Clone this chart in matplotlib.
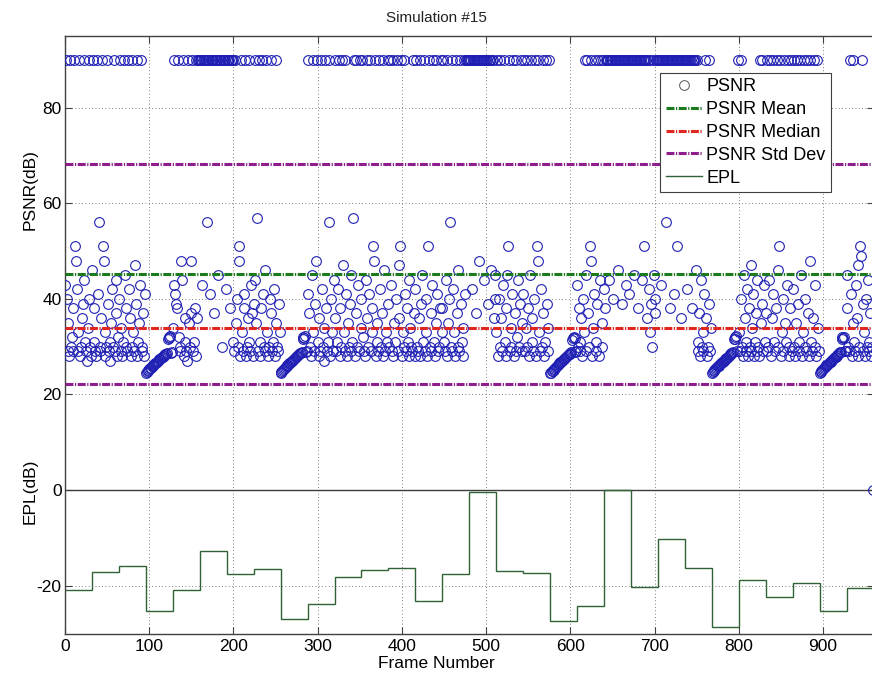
import numpy as np
import matplotlib
matplotlib.use("Agg")
import matplotlib.pyplot as plt
from matplotlib.lines import Line2D

plt.rcParams["font.family"] = ["Liberation Sans", "DejaVu Sans"]
plt.rcParams["axes.unicode_minus"] = False

# PSNR per frame (dB), one list per 32-frame GOP; 90 = lossless frame
gop00 = [43, 90, 40, 35, 29, 28, 90, 30, 32, 38, 29, 90, 51, 48, 42, 33, 29, 90, 28, 30, 36, 39, 44, 90, 31, 29, 27, 34, 90, 40, 30, 28]
gop01 = [46, 90, 38, 31, 29, 28, 90, 41, 56, 30, 29, 36, 90, 51, 48, 33, 28, 30, 90, 39, 29, 31, 27, 35, 42, 30, 90, 29, 37, 44, 28, 32]
gop02 = [40, 90, 34, 29, 28, 31, 90, 45, 38, 30, 29, 90, 42, 36, 28, 30, 90, 33, 29, 47, 39, 90, 28, 31, 35, 43, 90, 29, 30, 37, 28, 41]
gop03 = [24.6, 24.8, 25.0, 25.1, 25.4, 25.5, 25.6, 25.9, 26.0, 26.1, 26.4, 26.5, 26.6, 26.9, 27.0, 27.1, 27.4, 27.4, 27.6, 27.9, 27.9, 28.1, 28.3, 28.4, 28.5, 28.6, 31.6, 32.0, 31.8, 32.2, 28.7, 28.8]
gop04 = [34, 90, 43, 41, 39, 38, 90, 32, 29, 30, 48, 44, 90, 28, 31, 36, 29, 27, 90, 35, 30, 37, 48, 90, 29, 31, 38, 28, 90, 36, 90, 90]
gop05 = [90, 90, 90, 43, 90, 90, 90, 90, 56, 90, 90, 90, 41, 90, 90, 90, 90, 37, 90, 90, 90, 90, 45, 90, 90, 90, 30, 90, 90, 90, 90, 42]
gop06 = [90, 90, 90, 90, 38, 90, 90, 90, 31, 29, 90, 35, 40, 30, 51, 48, 28, 90, 33, 29, 41, 38, 90, 28, 30, 36, 31, 90, 29, 43, 37, 28]
gop07 = [39, 90, 44, 35, 57, 29, 90, 31, 28, 38, 90, 41, 30, 29, 46, 90, 33, 28, 30, 40, 90, 37, 29, 31, 42, 28, 90, 35, 30, 29, 39, 33]
gop08 = [24.5, 24.7, 24.9, 25.2, 25.3, 25.5, 25.8, 25.9, 26.1, 26.2, 26.5, 26.6, 26.8, 27.0, 27.1, 27.3, 27.5, 27.6, 27.8, 28.0, 28.1, 28.3, 28.4, 28.6, 28.7, 28.9, 31.7, 32.1, 31.9, 32.3, 28.8, 29.0]
gop09 = [41, 90, 37, 30, 28, 45, 90, 33, 29, 39, 48, 90, 31, 28, 36, 29, 90, 42, 30, 27, 34, 90, 38, 29, 31, 56, 90, 28, 40, 33, 29, 44]
gop10 = [36, 90, 29, 31, 42, 90, 28, 38, 30, 90, 47, 33, 29, 90, 41, 28, 35, 30, 39, 29, 45, 31, 57, 90, 28, 37, 90, 30, 43, 29, 90, 34]
gop11 = [40, 90, 32, 29, 28, 44, 90, 36, 30, 41, 90, 29, 33, 38, 51, 48, 90, 28, 31, 35, 29, 90, 42, 30, 37, 28, 90, 46, 29, 33, 31, 90]
gop12 = [39, 30, 90, 43, 29, 28, 90, 35, 31, 40, 90, 29, 36, 47, 51, 90, 28, 33, 30, 90, 41, 29, 38, 31, 28, 44, 34, 30, 29, 90, 37, 28]
gop13 = [42, 90, 30, 29, 36, 90, 28, 39, 45, 31, 90, 29, 33, 40, 28, 51, 90, 30, 37, 29, 43, 90, 31, 28, 35, 90, 41, 29, 30, 38, 90, 33]
gop14 = [38, 90, 31, 29, 44, 90, 28, 35, 40, 56, 30, 90, 29, 42, 33, 28, 90, 37, 30, 46, 29, 90, 39, 31, 28, 34, 90, 41, 90, 90, 90, 90]
gop15 = [90, 90, 90, 42, 90, 90, 90, 90, 37, 90, 90, 90, 48, 90, 90, 90, 90, 44, 90, 90, 90, 90, 39, 90, 90, 90, 46, 90, 90, 36, 40, 45]
gop16 = [33, 90, 28, 40, 30, 90, 36, 29, 43, 90, 31, 28, 38, 45, 51, 90, 29, 34, 30, 41, 90, 28, 37, 29, 90, 32, 44, 30, 39, 90, 29, 35]
gop17 = [41, 90, 29, 34, 30, 90, 38, 28, 45, 90, 31, 36, 29, 40, 90, 28, 51, 48, 90, 33, 29, 42, 30, 90, 37, 28, 31, 90, 39, 29, 34, 90]
gop18 = [24.4, 24.6, 24.9, 25.0, 25.2, 25.4, 25.6, 25.8, 25.9, 26.2, 26.3, 26.5, 26.7, 26.9, 27.0, 27.2, 27.4, 27.5, 27.7, 27.9, 28.0, 28.2, 28.4, 28.5, 28.7, 28.8, 31.5, 31.9, 32.1, 31.8, 28.9, 29.1]
gop19 = [43, 30, 38, 29, 31, 36, 28, 40, 33, 90, 29, 45, 90, 37, 30, 51, 48, 90, 28, 34, 41, 90, 29, 31, 39, 90, 28, 44, 90, 35, 30, 90]
gop20 = [42, 38, 90, 90, 90, 90, 44, 90, 90, 90, 90, 40, 90, 90, 90, 90, 46, 90, 90, 90, 90, 39, 90, 90, 90, 90, 43, 90, 90, 90, 41, 90]
gop21 = [90, 90, 90, 45, 90, 90, 90, 90, 38, 90, 90, 90, 90, 44, 90, 90, 51, 90, 90, 36, 90, 42, 33, 90, 39, 30, 90, 45, 37, 40, 90, 90]
gop22 = [90, 90, 90, 90, 43, 90, 90, 90, 90, 56, 90, 90, 90, 90, 38, 90, 90, 90, 90, 41, 90, 90, 51, 90, 90, 90, 90, 36, 90, 90, 90, 90]
gop23 = [90, 90, 90, 42, 90, 90, 90, 90, 38, 90, 90, 90, 90, 46, 90, 31, 29, 37, 28, 44, 30, 33, 29, 41, 90, 36, 28, 30, 90, 39, 29, 34]
gop24 = [24.6, 24.7, 25.0, 25.1, 25.4, 25.5, 25.7, 25.9, 26.0, 26.2, 26.4, 26.6, 26.7, 26.9, 27.1, 27.2, 27.4, 27.6, 27.7, 27.9, 28.1, 28.2, 28.4, 28.6, 28.7, 28.9, 31.6, 32.0, 31.7, 32.2, 29.0, 90]
gop25 = [33, 29, 40, 90, 30, 28, 45, 36, 29, 31, 42, 28, 38, 30, 47, 29, 34, 41, 28, 31, 37, 29, 44, 30, 28, 90, 35, 39, 90, 29, 43, 31]
gop26 = [37, 90, 29, 30, 44, 90, 28, 36, 41, 90, 31, 29, 38, 90, 30, 46, 51, 90, 28, 33, 40, 29, 90, 35, 31, 43, 90, 28, 30, 38, 90, 29]
gop27 = [42, 90, 30, 28, 35, 90, 39, 29, 31, 90, 45, 28, 33, 90, 30, 40, 29, 90, 37, 28, 48, 90, 31, 29, 36, 90, 43, 30, 28, 90, 34, 29]
gop28 = [24.5, 24.8, 24.9, 25.2, 25.3, 25.6, 25.7, 25.9, 26.1, 26.2, 26.4, 26.6, 26.8, 26.9, 27.1, 27.3, 27.4, 27.6, 27.8, 27.9, 28.1, 28.3, 28.4, 28.6, 28.8, 28.9, 31.7, 32.1, 31.8, 32.0, 29.0, 29.2]
gop29 = [45, 38, 30, 29, 90, 41, 28, 35, 90, 31, 29, 43, 36, 28, 47, 30, 51, 49, 90, 29, 39, 33, 28, 40, 30, 44, 29, 31, 37, 28, 30, 0]

# EPL per GOP (dB)
epl = [-20.9, -17.2, -15.9, -25.2, -20.9, -12.8, -17.6, -16.5, -27.0, -23.9,
       -18.1, -16.7, -16.2, -23.3, -17.6, -0.5, -16.9, -17.4, -27.4, -24.2,
       0.0, -20.2, -10.3, -16.4, -28.6, -18.9, -22.3, -19.5, -25.3, -20.4]
GOP_LEN = 32

# summary lines
PSNR_MEAN = 45.2
PSNR_MEDIAN = 33.9
PSNR_STD = 23.1

psnr = (gop00 + gop01 + gop02 + gop03 + gop04 + gop05 + gop06 + gop07 + gop08 + gop09
        + gop10 + gop11 + gop12 + gop13 + gop14 + gop15 + gop16 + gop17 + gop18 + gop19
        + gop20 + gop21 + gop22 + gop23 + gop24 + gop25 + gop26 + gop27 + gop28 + gop29)

W, H = 872, 676
fig = plt.figure(figsize=(W / 100, H / 100), dpi=100)
ax = fig.add_axes([65 / W, 1 - 633.5 / H, (873.6 - 65) / W, (633.5 - 36) / H])

frames = np.arange(len(psnr))
dash = (0, (2.6, 0.5, 0.4, 0.5))
blue = "#1f1fb4"
green = "#1b7a1b"
red = "#e0261f"
purple = "#8e1e8e"
epl_color = "#2f6236"

ax.plot(frames, psnr, "o", mfc="none", mec=blue, mew=0.8, ms=7, zorder=3)
ax.axhline(PSNR_MEAN, color=green, lw=2.2, ls=dash, zorder=4)
ax.axhline(PSNR_MEDIAN, color=red, lw=2.2, ls=dash, zorder=4)
ax.axhline(PSNR_MEAN + PSNR_STD, color=purple, lw=2.2, ls=dash, zorder=4)
ax.axhline(PSNR_MEAN - PSNR_STD, color=purple, lw=2.2, ls=dash, zorder=4)
ax.axhline(0, color="#3c3c3c", lw=1, zorder=2)
edges = np.arange(0, GOP_LEN * len(epl) + 1, GOP_LEN)
ax.stairs(epl, edges, baseline=None, color=epl_color, lw=1, zorder=5)

ax.set_xlim(0, 960)
ax.set_ylim(-30, 95)
ax.set_xticks(range(0, 901, 100))
ax.set_yticks(range(-20, 81, 20))
ax.grid(True, ls=(0, (1, 3)), color="#555555", lw=0.6)
ax.tick_params(direction="in", length=5, width=0.8, top=True, right=True,
               color="#404040", labelsize=12.5)
ax.tick_params(axis="x", pad=4)
ax.tick_params(axis="y", pad=2.5)
for s in ax.spines.values():
    s.set_color("#404040")
    s.set_linewidth(1)

handles = [
    Line2D([], [], ls="none", marker="o", mfc="none", mec="#555555", mew=0.7, ms=7),
    Line2D([], [], color=green, lw=2.2, ls=dash),
    Line2D([], [], color=red, lw=2.2, ls=dash),
    Line2D([], [], color=purple, lw=2.2, ls=dash),
    Line2D([], [], color=epl_color, lw=1),
]
labels = ["PSNR", "PSNR Mean", "PSNR Median", "PSNR Std Dev", "EPL"]
leg = ax.legend(handles, labels, loc="upper left", bbox_to_anchor=(0.736, 0.938),
                borderaxespad=0, fontsize=13, handlelength=2.0, handletextpad=0.25,
                borderpad=0.3, labelspacing=0.32, fancybox=False, framealpha=1)
leg.get_frame().set_edgecolor("#404040")
leg.get_frame().set_linewidth(0.8)

fig.text(0.5, 1 - 18 / H, "Simulation #15", ha="center", va="center", fontsize=11,
         color="#222222")
fig.text(30 / W, 1 - 190 / H, "PSNR(dB)", rotation=90, ha="center", va="center", fontsize=12.5)
fig.text(30 / W, 1 - 491 / H, "EPL(dB)", rotation=90, ha="center", va="center", fontsize=12.5)
fig.text(0.5, 1 - 664 / H, "Frame Number", ha="center", va="center", fontsize=12.5)

fig.savefig("out.png", dpi=100)
